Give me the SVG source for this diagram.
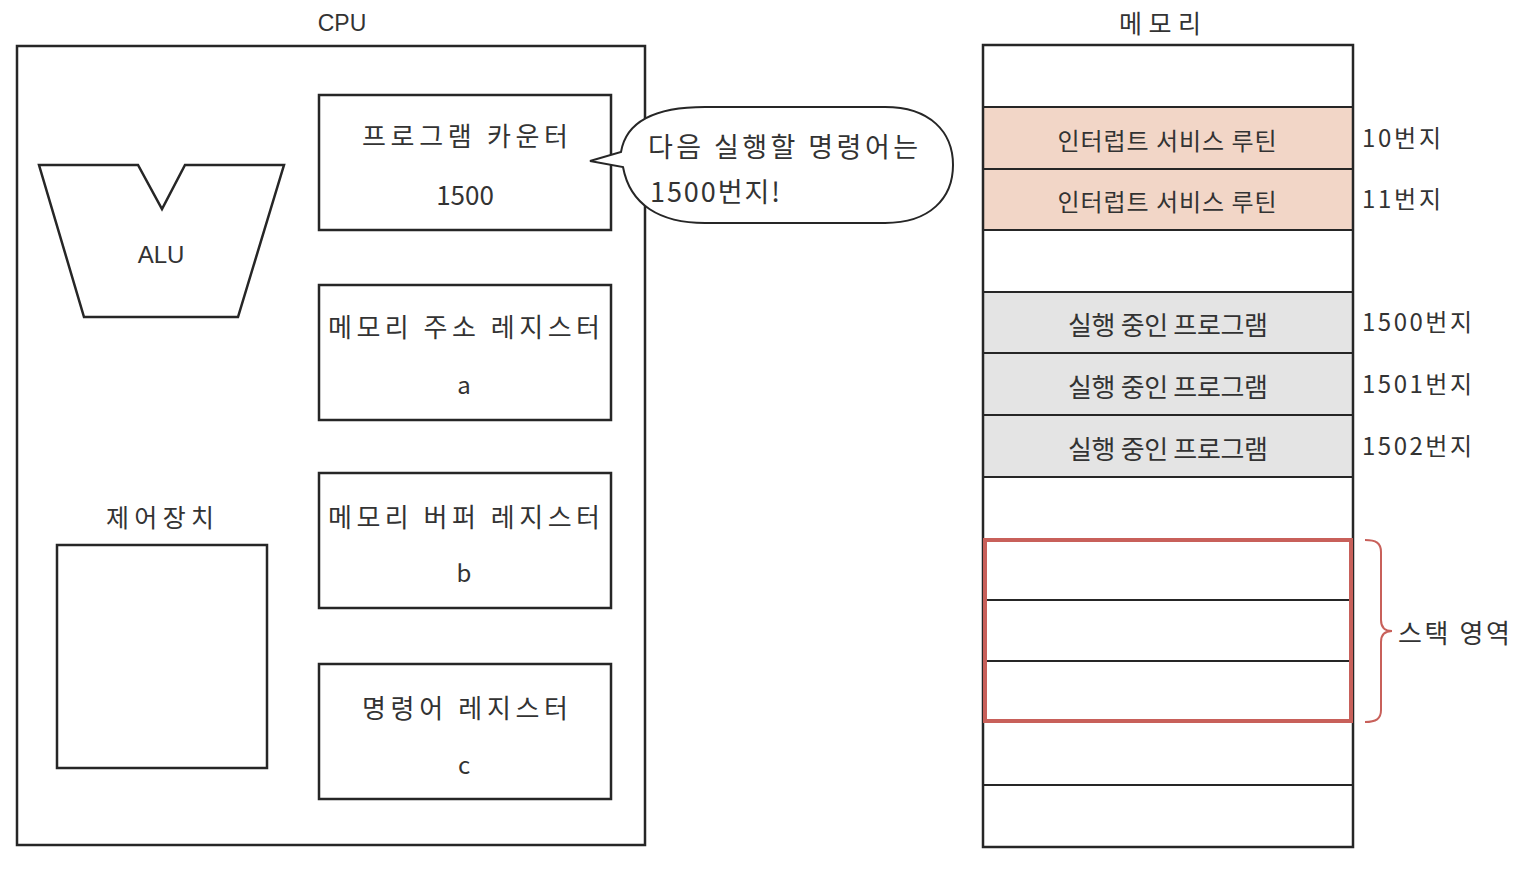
<svg xmlns="http://www.w3.org/2000/svg" width="1532" height="874" viewBox="0 0 1532 874">
<style>
.box{fill:none;stroke:#262626;stroke-width:2.5}
.ln{stroke:#262626;stroke-width:2.2}
.t{font-family:"Noto Sans CJK KR","Noto Sans",sans-serif;fill:#333;text-anchor:middle;dominant-baseline:central}
.l{font-family:"Noto Sans CJK KR","Noto Sans",sans-serif;fill:#333;dominant-baseline:central}
.s{font-family:"Liberation Sans","Noto Sans",sans-serif;fill:#333;text-anchor:middle;dominant-baseline:central}
</style>
<rect width="1532" height="874" fill="#fff"/>
<g id="cpu">
<text class="s" x="342" y="23" font-size="23">CPU</text>
<rect class="box" x="17" y="46" width="628" height="799"/>
</g>
<g id="alu">
<polygon class="box" points="39,165 138,165 162,209 185,165 284,165 238,317 84,317"/>
<text class="s" x="161" y="254" font-size="24">ALU</text>
</g>
<g id="control">
<text class="t" x="160" y="516" font-size="25" textLength="108">제어장치</text>
<rect class="box" x="57" y="545" width="210" height="223"/>
</g>
<g id="pc">
<rect class="box" x="319" y="95" width="292" height="135"/>
<text class="t" x="465" y="134" font-size="26" textLength="206">프로그램 카운터</text>
<text class="t" x="465" y="193" font-size="26">1500</text>
</g>
<g id="mar">
<rect class="box" x="319" y="285" width="292" height="135"/>
<text class="t" x="464" y="325" font-size="26" textLength="272">메모리 주소 레지스터</text>
<text class="t" x="464" y="383" font-size="24">a</text>
</g>
<g id="mbr">
<rect class="box" x="319" y="473" width="292" height="135"/>
<text class="t" x="464" y="515" font-size="26" textLength="272">메모리 버퍼 레지스터</text>
<text class="t" x="464" y="571" font-size="24">b</text>
</g>
<g id="ir">
<rect class="box" x="319" y="664" width="292" height="135"/>
<text class="t" x="465" y="706" font-size="26" textLength="206">명령어 레지스터</text>
<text class="t" x="464" y="763" font-size="24">c</text>
</g>
<g id="bubble">
<path d="M590 161 L621 152 C626 122 655 107 705 107 L885 107 C930 107 953 132 953 165 C953 198 930 223 885 223 L705 223 C660 223 630 205 623 167 Z" fill="#fff" stroke="#262626" stroke-width="2"/>
<text class="l" x="648" y="145" font-size="27" textLength="270">다음 실행할 명령어는</text>
<text class="l" x="650" y="190" font-size="27" textLength="130">1500번지!</text>
</g>
<g id="memory">
<text class="t" x="1160" y="22" font-size="25" textLength="82">메모리</text>
<rect x="983" y="107" width="370" height="123" fill="#f2d6c7"/>
<rect x="983" y="292" width="370" height="185" fill="#e4e4e4"/>
<rect class="box" x="983" y="45" width="370" height="802"/>
<line class="ln" x1="983" y1="107" x2="1353" y2="107"/>
<line class="ln" x1="983" y1="169" x2="1353" y2="169"/>
<line class="ln" x1="983" y1="230" x2="1353" y2="230"/>
<line class="ln" x1="983" y1="292" x2="1353" y2="292"/>
<line class="ln" x1="983" y1="353" x2="1353" y2="353"/>
<line class="ln" x1="983" y1="415" x2="1353" y2="415"/>
<line class="ln" x1="983" y1="477" x2="1353" y2="477"/>
<line class="ln" x1="983" y1="539" x2="1353" y2="539"/>
<line class="ln" x1="983" y1="600" x2="1353" y2="600"/>
<line class="ln" x1="983" y1="661" x2="1353" y2="661"/>
<line class="ln" x1="983" y1="722" x2="1353" y2="722"/>
<line class="ln" x1="983" y1="785" x2="1353" y2="785"/>
<text class="t" x="1167" y="139" font-size="24" textLength="219">인터럽트 서비스 루틴</text>
<text class="t" x="1167" y="200" font-size="24" textLength="219">인터럽트 서비스 루틴</text>
<text class="t" x="1168" y="323" font-size="26" textLength="200">실행 중인 프로그램</text>
<text class="t" x="1168" y="385" font-size="26" textLength="200">실행 중인 프로그램</text>
<text class="t" x="1168" y="447" font-size="26" textLength="200">실행 중인 프로그램</text>
<text class="l" x="1362" y="136" font-size="24" textLength="79">10번지</text>
<text class="l" x="1362" y="197" font-size="24" textLength="79">11번지</text>
<text class="l" x="1362" y="320" font-size="24" textLength="110">1500번지</text>
<text class="l" x="1362" y="382" font-size="24" textLength="110">1501번지</text>
<text class="l" x="1362" y="444" font-size="24" textLength="110">1502번지</text>
</g>
<g id="stack">
<rect x="985" y="540" width="366" height="181" fill="none" stroke="#c8605a" stroke-width="4"/>
<path d="M1365 540 C1376 540 1381 543 1381 552 L1381 620 C1381 628 1385 631 1392 631 C1385 631 1381 634 1381 642 L1381 710 C1381 719 1376 722 1365 722" fill="none" stroke="#c8605a" stroke-width="2"/>
<text class="l" x="1398" y="631" font-size="26" textLength="112">스택 영역</text>
</g>
</svg>
